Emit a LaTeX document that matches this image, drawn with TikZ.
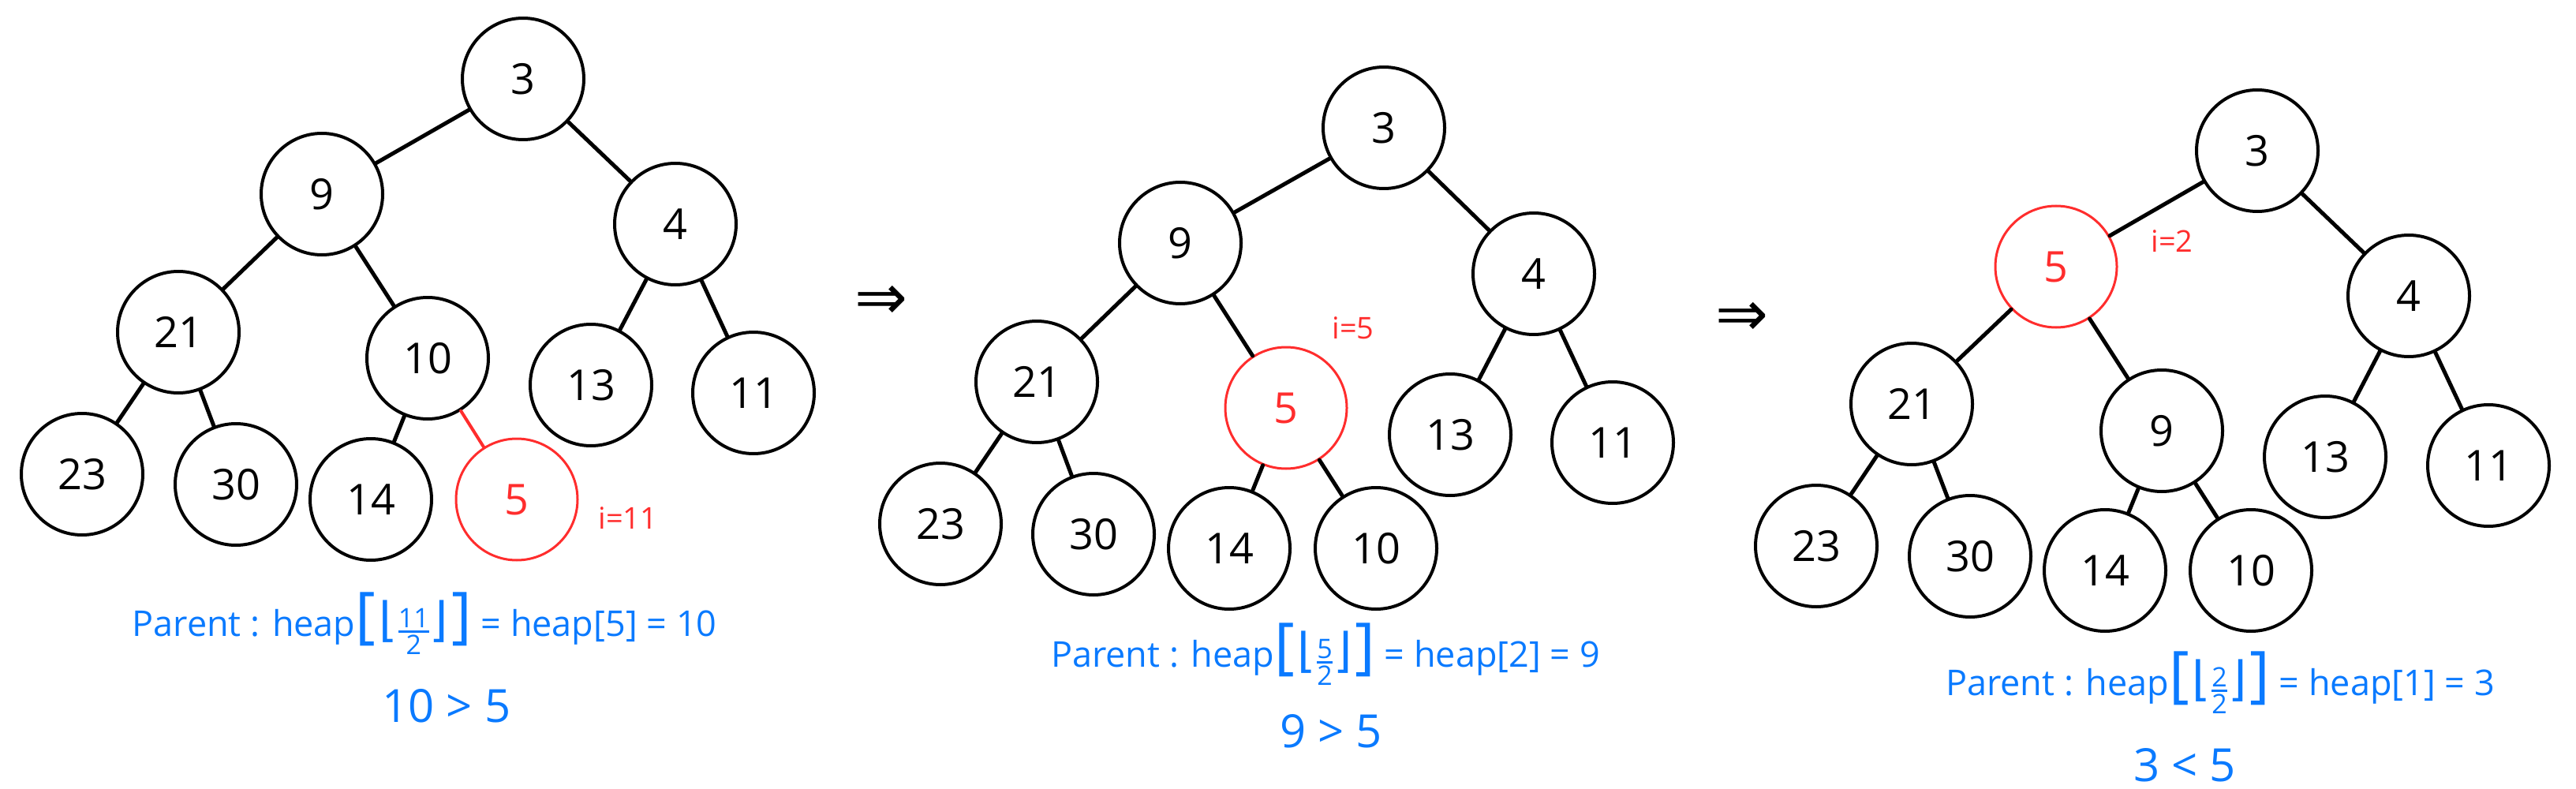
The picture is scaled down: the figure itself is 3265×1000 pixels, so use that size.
\documentclass[tikz,border=0pt]{standalone}
\usepackage{fontspec}
\setmainfont{Open Sans}
\newfontfamily\dejavu{DejaVu Sans}
\definecolor{hred}{RGB}{255,45,45}
\definecolor{hblue}{RGB}{10,122,255}
\newcommand\fsz[1]{\fontsize{#1}{#1}\selectfont}
\newcommand\pfrac[2]{{\fsz{78}[}\kern4pt{\dejavu\fsz{60}⌊}$\mathsurround=0pt{\mbox{\fsz{34}#1}\above 3pt\mbox{\fsz{34}#2}}${\dejavu\fsz{60}⌋}\kern4pt{\fsz{78}]}}
\begin{document}
\begin{tikzpicture}[x=1pt,y=-1pt,
  hn/.style={circle,draw=black,line width=4pt,minimum size=154pt,inner sep=0pt,font=\fsz{54}},
  hr/.style={hn,draw=hred,line width=3pt,text=hred},
  ed/.style={line width=5pt,line cap=round},
  edr/.style={ed,draw=hred,line width=4pt},
  lab/.style={text=hred,font=\fsz{38},inner sep=0pt},
  formula/.style={text=hblue,font=\fsz{45},inner sep=0pt},
  cmp/.style={text=hblue,font=\fsz{58},inner sep=0pt},
  arr/.style={font=\dejavu\fsz{80},inner sep=0pt}]
\useasboundingbox (0,0) rectangle (3265,1000);

% ---------- tree 1 ----------
\node[hn] (a3) at (663,100) {3};
\node[hn] (a9) at (408,246) {9};
\node[hn] (a4) at (856,284) {4};
\node[hn] (a21) at (226,421) {21};
\node[hn] (a10) at (542,454) {10};
\node[hn] (a13) at (749,488) {13};
\node[hn] (a11) at (955,498) {11};
\node[hn] (a23) at (104,601) {23};
\node[hn] (a30) at (299,614) {30};
\node[hn] (a14) at (470,633) {14};
\node[hr] (a5) at (655,633) {5};
\node[lab] (ai) at (796,657) {i=11};
\draw[ed] (a3) -- (a9);
\draw[ed] (a3) -- (a4);
\draw[ed] (a9) -- (a21);
\draw[ed] (a9) -- (a10);
\draw[ed] (a4) -- (a13);
\draw[ed] (a4) -- (a11);
\draw[ed] (a21) -- (a23);
\draw[ed] (a21) -- (a30);
\draw[ed] (a10) -- (a14);
\draw[edr] (a10) -- (a5);
\node[formula] (f1) at (538,790) {Parent : heap\pfrac{11}{2} = heap[5] = 10};
\node[cmp] (c1) at (566,895) {10 > 5};

\node[arr] (r1) at (1117,383) {⇒};

% ---------- tree 2 ----------
\node[hn] (b3) at (1754,162) {3};
\node[hn] (b9) at (1496,308) {9};
\node[hn] (b4) at (1944,347) {4};
\node[hn] (b21) at (1314,484) {21};
\node[hr] (b5) at (1630,517) {5};
\node[hn] (b13) at (1838,551) {13};
\node[hn] (b11) at (2044,561) {11};
\node[hn] (b23) at (1192,664) {23};
\node[hn] (b30) at (1386,677) {30};
\node[hn] (b14) at (1558,695) {14};
\node[hn] (b10) at (1744,695) {10};
\node[lab] (bi) at (1715,416) {i=5};
\draw[ed] (b3) -- (b9);
\draw[ed] (b3) -- (b4);
\draw[ed] (b9) -- (b21);
\draw[ed] (b9) -- (b5);
\draw[ed] (b4) -- (b13);
\draw[ed] (b4) -- (b11);
\draw[ed] (b21) -- (b23);
\draw[ed] (b21) -- (b30);
\draw[ed] (b5) -- (b14);
\draw[ed] (b5) -- (b10);
\node[formula] (f2) at (1680,829) {Parent : heap\pfrac{5}{2} = heap[2] = 9};
\node[cmp] (c2) at (1687,927) {9 > 5};

\node[arr] (r2) at (2208,404) {⇒};

% ---------- tree 3 ----------
\node[hn] (c3n) at (2861,191) {3};
\node[hr] (c5n) at (2606,338) {5};
\node[hn] (c4n) at (3053,375) {4};
\node[hn] (c21n) at (2423,512) {21};
\node[hn] (c9n) at (2740,546) {9};
\node[hn] (c13n) at (2947,579) {13};
\node[hn] (c11n) at (3154,590) {11};
\node[hn] (c23n) at (2302,692) {23};
\node[hn] (c30n) at (2497,705) {30};
\node[hn] (c14n) at (2668,723) {14};
\node[hn] (c10n) at (2853,723) {10};
\node[lab] (ci) at (2753,306) {i=2};
\draw[ed] (c3n) -- (c5n);
\draw[ed] (c3n) -- (c4n);
\draw[ed] (c5n) -- (c21n);
\draw[ed] (c5n) -- (c9n);
\draw[ed] (c4n) -- (c13n);
\draw[ed] (c4n) -- (c11n);
\draw[ed] (c21n) -- (c23n);
\draw[ed] (c21n) -- (c30n);
\draw[ed] (c9n) -- (c14n);
\draw[ed] (c9n) -- (c10n);
\node[formula] (f3) at (2814,865) {Parent : heap\pfrac{2}{2} = heap[1] = 3};
\node[cmp] (c3c) at (2769,970) {3 < 5};
\end{tikzpicture}
\end{document}
